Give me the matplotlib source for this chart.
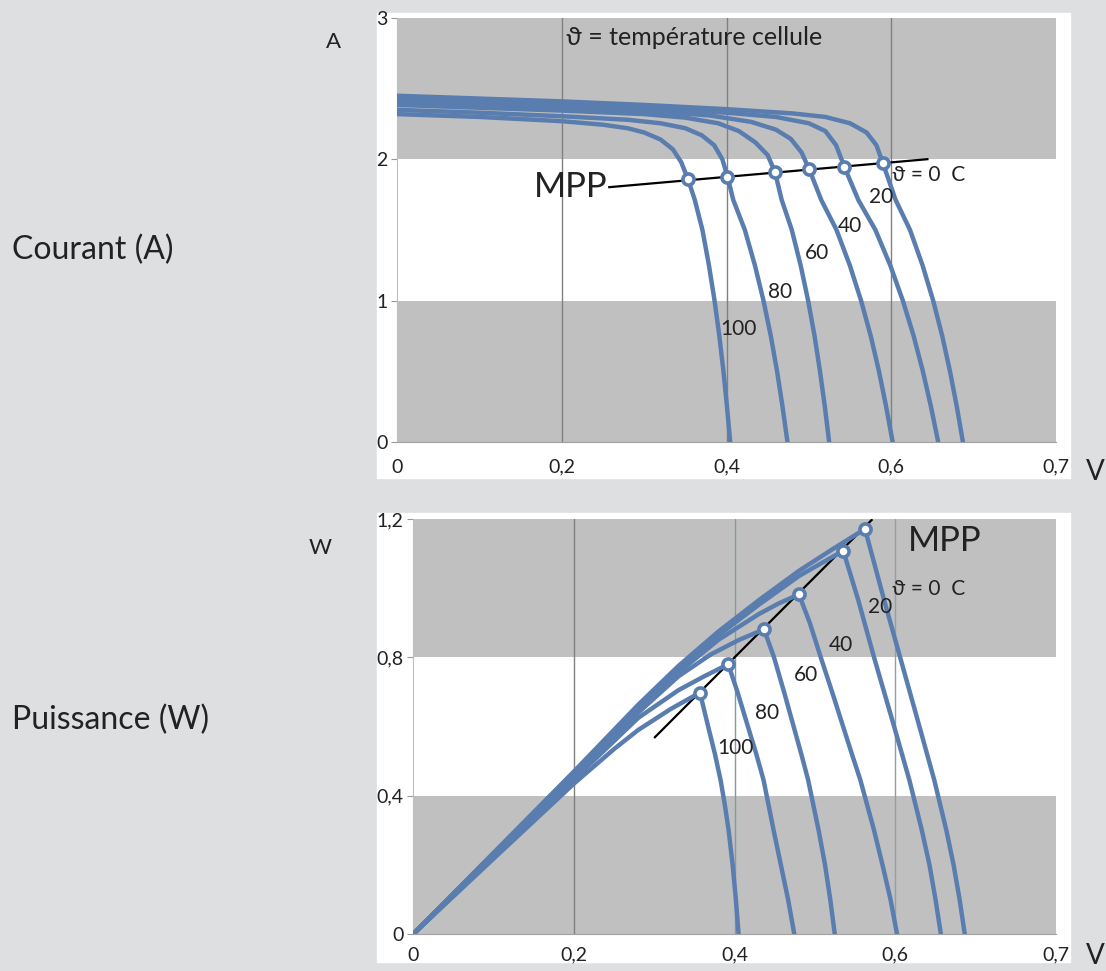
import numpy as np
import matplotlib.pyplot as plt
from matplotlib.patches import Rectangle

# temperatures of the cell (degC)
temps = [0, 20, 40, 60, 80, 100]

# I-V curves (voltage V, current A), one list per temperature
iv_v = [
    [0, 0.1, 0.2, 0.3, 0.4, 0.48, 0.52, 0.55, 0.57, 0.582, 0.5899, 0.6053, 0.6228, 0.638, 0.6509, 0.6619, 0.6713, 0.6796, 0.687],
    [0, 0.1, 0.2, 0.3, 0.4, 0.46, 0.50, 0.52, 0.533, 0.543, 0.560, 0.5808, 0.5988, 0.6141, 0.6272, 0.6384, 0.6482, 0.657],
    [0, 0.1, 0.2, 0.3, 0.38, 0.43, 0.46, 0.478, 0.491, 0.5004, 0.515, 0.5336, 0.5497, 0.5634, 0.5751, 0.5851, 0.5938, 0.6017],
    [0, 0.1, 0.2, 0.3, 0.35, 0.39, 0.415, 0.435, 0.45, 0.4589, 0.467, 0.4793, 0.49, 0.4991, 0.5069, 0.5135, 0.5194, 0.5246],
    [0, 0.1, 0.2, 0.28, 0.32, 0.35, 0.37, 0.385, 0.395, 0.4012, 0.4082, 0.4223, 0.4345, 0.4449, 0.4538, 0.4614, 0.468, 0.474],
    [0, 0.1, 0.2, 0.25, 0.28, 0.30, 0.32, 0.335, 0.345, 0.3533, 0.3615, 0.3708, 0.3787, 0.3855, 0.3913, 0.3963, 0.4006, 0.4045],
]
iv_i = [
    [2.45, 2.43, 2.41, 2.385, 2.355, 2.325, 2.30, 2.255, 2.19, 2.10, 1.972, 1.713, 1.5, 1.25, 1.0, 0.75, 0.5, 0.25, 0],
    [2.43, 2.41, 2.39, 2.365, 2.33, 2.30, 2.255, 2.20, 2.10, 1.948, 1.713, 1.5, 1.25, 1.0, 0.75, 0.5, 0.25, 0],
    [2.41, 2.39, 2.37, 2.345, 2.31, 2.265, 2.21, 2.145, 2.05, 1.930, 1.713, 1.5, 1.25, 1.0, 0.75, 0.5, 0.25, 0],
    [2.385, 2.365, 2.345, 2.32, 2.295, 2.255, 2.20, 2.12, 2.03, 1.909, 1.713, 1.5, 1.25, 1.0, 0.75, 0.5, 0.25, 0],
    [2.35, 2.33, 2.305, 2.28, 2.255, 2.22, 2.17, 2.10, 2.00, 1.878, 1.713, 1.5, 1.25, 1.0, 0.75, 0.5, 0.25, 0],
    [2.32, 2.30, 2.27, 2.245, 2.22, 2.19, 2.14, 2.07, 1.98, 1.859, 1.713, 1.5, 1.25, 1.0, 0.75, 0.5, 0.25, 0],
]
mpp_iv_v = [0.5899, 0.543, 0.5004, 0.4589, 0.4012, 0.3533]
mpp_iv_i = [1.972, 1.948, 1.930, 1.909, 1.878, 1.859]
mpp_iv_line_v = [0.2577, 0.6439]
mpp_iv_line_i = [1.803, 2.001]

# P-V curves (voltage V, power W)
pv_v = [
    [0, 0.1, 0.2, 0.28, 0.33, 0.38, 0.43, 0.48, 0.52, 0.5622, 0.574, 0.586, 0.606, 0.630, 0.6485, 0.6635, 0.6725, 0.680, 0.6864],
    [0, 0.1, 0.2, 0.28, 0.33, 0.38, 0.43, 0.48, 0.51, 0.5352, 0.5538, 0.5735, 0.5985, 0.6175, 0.633, 0.6425, 0.650, 0.6567],
    [0, 0.1, 0.2, 0.28, 0.33, 0.38, 0.43, 0.455, 0.48, 0.4935, 0.5072, 0.5213, 0.535, 0.546, 0.5565, 0.5735, 0.584, 0.594, 0.6021],
    [0, 0.1, 0.2, 0.28, 0.33, 0.37, 0.405, 0.4365, 0.449, 0.4615, 0.4734, 0.483, 0.4915, 0.5045, 0.5125, 0.519, 0.5246],
    [0, 0.1, 0.2, 0.28, 0.33, 0.362, 0.392, 0.4035, 0.4165, 0.427, 0.436, 0.4485, 0.4575, 0.4665, 0.4742],
    [0, 0.1, 0.2, 0.25, 0.28, 0.32, 0.3568, 0.367, 0.3755, 0.3825, 0.388, 0.3925, 0.3975, 0.4015, 0.4049],
]
pv_p = [
    [0, 0.235, 0.47, 0.663, 0.775, 0.875, 0.965, 1.05, 1.11, 1.171, 1.07, 0.966, 0.8, 0.6, 0.445, 0.3, 0.2, 0.1, 0],
    [0, 0.233, 0.466, 0.656, 0.766, 0.864, 0.952, 1.035, 1.075, 1.108, 0.966, 0.8, 0.6, 0.445, 0.3, 0.2, 0.1, 0],
    [0, 0.231, 0.461, 0.648, 0.756, 0.851, 0.925, 0.956, 0.982, 0.9, 0.8, 0.7, 0.6, 0.52, 0.445, 0.3, 0.2, 0.1, 0],
    [0, 0.228, 0.455, 0.64, 0.745, 0.808, 0.85, 0.881, 0.8, 0.7, 0.6, 0.52, 0.445, 0.3, 0.2, 0.1, 0],
    [0, 0.224, 0.447, 0.625, 0.705, 0.745, 0.78, 0.7, 0.6, 0.52, 0.445, 0.3, 0.2, 0.1, 0],
    [0, 0.218, 0.435, 0.535, 0.59, 0.65, 0.698, 0.6, 0.52, 0.445, 0.37, 0.3, 0.2, 0.1, 0],
]
mpp_pv_v = [0.5622, 0.5352, 0.480, 0.4365, 0.392, 0.3568]
mpp_pv_p = [1.171, 1.108, 0.982, 0.881, 0.780, 0.698]
mpp_pv_line_v = [0.3007, 0.5705]
mpp_pv_line_p = [0.569, 1.197]

x_ticks = [0, 0.2, 0.4, 0.6, 0.8]
x_labels = ['0', '0,2', '0,4', '0,6', '0,7']

BLUE = '#5a7db0'
GRAY = '#c0c0c0'
FONT = ['Lato', 'DejaVu Sans']
plt.rcParams['font.family'] = FONT

fig = plt.figure(figsize=(11.06, 9.71), dpi=100, facecolor='#dedfe1')
W, H = 1106.0, 971.0

# white panels behind the two charts
fig.patches.append(Rectangle((377 / W, 1 - 478 / H), 693 / W, 465 / H,
                             transform=fig.transFigure, color='white', zorder=-5))
fig.patches.append(Rectangle((377 / W, 1 - 962 / H), 693 / W, 449 / H,
                             transform=fig.transFigure, color='white', zorder=-5))

ax1 = fig.add_axes([397 / W, 1 - 442 / H, 659 / W, 424 / H])
ax2 = fig.add_axes([413.3 / W, 1 - 934 / H, 642.7 / W, 415 / H])


def style(ax, bands, ymax, yticks, ylabels, grid_cols, xpad):
    ax.set_facecolor('white')
    for lo, hi in bands:
        ax.axhspan(lo, hi, color=GRAY, lw=0, zorder=0)
    for x, c in zip([0.2, 0.4, 0.6], grid_cols):
        ax.axvline(x, color=c, lw=1, zorder=1)
    ax.set_xlim(0, 0.8)
    ax.set_ylim(0, ymax)
    ax.set_xticks(x_ticks)
    ax.set_xticklabels(x_labels)
    ax.set_yticks(yticks)
    ax.set_yticklabels(ylabels)
    ax.tick_params(axis='x', length=0, pad=xpad, labelsize=14, labelcolor='#222222')
    ax.tick_params(axis='y', length=4, width=0.8, color='#999999', pad=3,
                   labelsize=14, labelcolor='#222222')
    for s in ['top', 'right']:
        ax.spines[s].set_visible(False)
    ax.spines['left'].set_color('#b5c0c8')
    ax.spines['bottom'].set_color('#a0a0a0')


style(ax1, [(2, 3), (0, 1)], 3, [0, 1, 2, 3], ['0', '1', '2', '3'],
      ['#808080', '#808080', '#808080'], 12)
style(ax2, [(0.8, 1.2), (0, 0.4)], 1.2, [0, 0.4, 0.8, 1.2], ['0', '0,4', '0,8', '1,2'],
      ['#808080', '#7f9aa8', '#8ea0ae'], 9)

# top chart: current
ax1.plot(mpp_iv_line_v, mpp_iv_line_i, color='black', lw=1.6, zorder=2)
for v, i in zip(iv_v, iv_i):
    ax1.plot(v, i, color=BLUE, lw=3.2, solid_joinstyle='round', zorder=3)
ax1.plot(mpp_iv_v, mpp_iv_i, 'o', ms=8, mfc='white', mec=BLUE, mew=2.6, zorder=4)

ax1.text(0.255, 1.805, 'MPP', fontsize=25, ha='right', va='center', color='#222222')
ax1.text(0.205, 2.86, 'ϑ = température cellule', fontsize=18, ha='left', va='center',
         color='#222222')
ax1.text(0.601, 1.89, 'ϑ = 0  C', fontsize=15, ha='left', va='center', color='#222222')
iv_lab_v = [0.5878, 0.55, 0.5098, 0.4646, 0.4146]
iv_lab_i = [1.734, 1.529, 1.338, 1.062, 0.80]
for t, x, y in zip(temps[1:], iv_lab_v, iv_lab_i):
    ax1.text(x, y, str(t), fontsize=15, ha='center', va='center', color='#222222')

# bottom chart: power
ax2.plot(mpp_pv_line_v, mpp_pv_line_p, color='black', lw=1.6, zorder=2)
for v, p in zip(pv_v, pv_p):
    ax2.plot(v, p, color=BLUE, lw=3.2, solid_joinstyle='round', zorder=3)
ax2.plot(mpp_pv_v, mpp_pv_p, 'o', ms=8, mfc='white', mec=BLUE, mew=2.6, zorder=4)

ax2.text(0.6155, 1.1365, 'MPP', fontsize=25, ha='left', va='center', color='#222222')
ax2.text(0.5958, 0.9977, 'ϑ = 0  C', fontsize=15, ha='left', va='center', color='#222222')
pv_lab_v = [0.5808, 0.5323, 0.4885, 0.4403, 0.4015]
pv_lab_p = [0.9456, 0.8357, 0.749, 0.639, 0.538]
for t, x, y in zip(temps[1:], pv_lab_v, pv_lab_p):
    ax2.text(x, y, str(t), fontsize=15, ha='center', va='center', color='#222222')

# side labels and units
fig.text(12 / W, 1 - 250 / H, 'Courant (A)', fontsize=23, ha='left', va='center', color='#222222')
fig.text(12 / W, 1 - 720 / H, 'Puissance (W)', fontsize=23, ha='left', va='center', color='#222222')
fig.text(333 / W, 1 - 42 / H, 'A', fontsize=16, ha='center', va='center', color='#222222')
fig.text(320 / W, 1 - 548 / H, 'W', fontsize=16, ha='center', va='center', color='#222222')
fig.text(1086 / W, 1 - 472 / H, 'V', fontsize=20, ha='left', va='center', color='#222222')
fig.text(1086 / W, 1 - 956 / H, 'V', fontsize=20, ha='left', va='center', color='#222222')

fig.savefig('out.png', dpi=100, facecolor=fig.get_facecolor())
